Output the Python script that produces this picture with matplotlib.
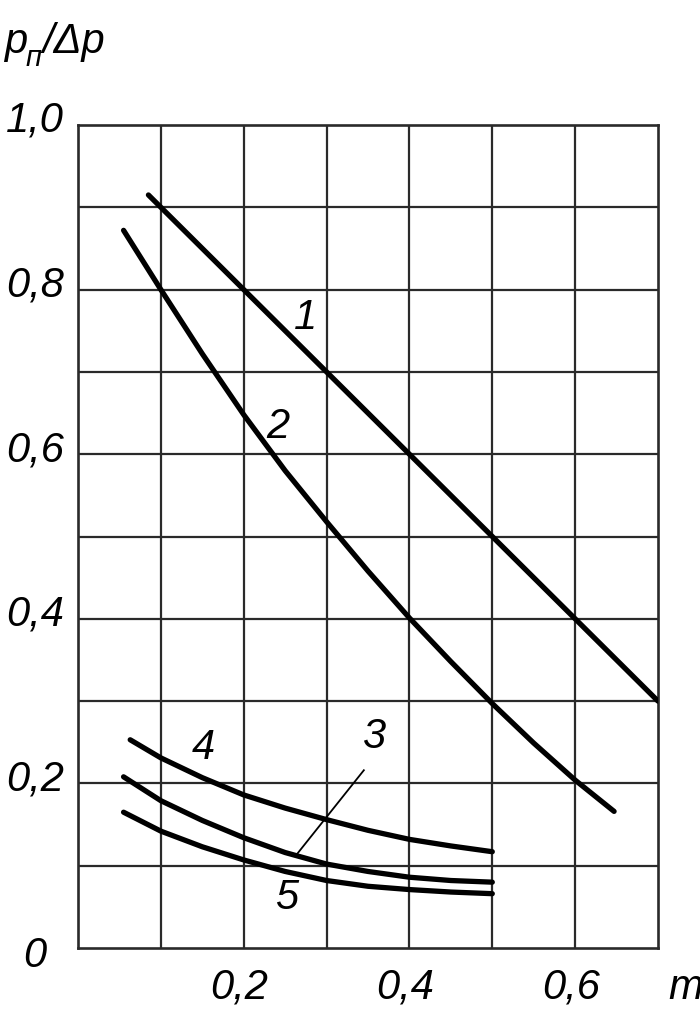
import matplotlib
matplotlib.use("Agg")
import matplotlib.pyplot as plt
from matplotlib import font_manager

# ---- data ----
x1 = [0.085, 0.1, 0.2, 0.3, 0.4, 0.5, 0.6, 0.7]
y1 = [0.915, 0.90, 0.80, 0.70, 0.60, 0.50, 0.40, 0.30]

x2 = [0.055, 0.1, 0.15, 0.2, 0.25, 0.3, 0.35, 0.4, 0.45, 0.5, 0.55, 0.6, 0.647]
y2 = [0.872, 0.800, 0.722, 0.648, 0.580, 0.518, 0.458, 0.401, 0.348, 0.297, 0.249, 0.204, 0.166]

x3 = [0.055, 0.1, 0.15, 0.2, 0.25, 0.3, 0.35, 0.4, 0.45, 0.5]
y3 = [0.208, 0.179, 0.155, 0.134, 0.116, 0.102, 0.093, 0.086, 0.082, 0.080]

x4 = [0.063, 0.1, 0.15, 0.2, 0.25, 0.3, 0.35, 0.4, 0.45, 0.5]
y4 = [0.253, 0.231, 0.207, 0.186, 0.170, 0.156, 0.143, 0.132, 0.124, 0.117]

x5 = [0.055, 0.1, 0.15, 0.2, 0.25, 0.3, 0.35, 0.4, 0.45, 0.5]
y5 = [0.165, 0.142, 0.123, 0.107, 0.093, 0.082, 0.075, 0.071, 0.068, 0.066]

xticks = [0.2, 0.4, 0.6]
xtick_labels = ["0,2", "0,4", "0,6"]
yticks = [0.0, 0.2, 0.4, 0.6, 0.8, 1.0]
ytick_labels = ["0", "0,2", "0,4", "0,6", "0,8", "1,0"]

curve_labels = ["1", "2", "3", "4", "5"]
label_pos = [(0.275, 0.766), (0.241, 0.633), (0.357, 0.256), (0.151, 0.243), (0.252, 0.061)]

# ---- fonts ----
avail = {f.name for f in font_manager.fontManager.ttflist}
fam = "Liberation Sans Narrow" if "Liberation Sans Narrow" in avail else "Liberation Sans"
FS = 30

fig = plt.figure(figsize=(7.0, 10.15), dpi=100)
ax = fig.add_axes([78 / 700, 67 / 1015, 580 / 700, 823 / 1015])
ax.set_xlim(0, 0.7)
ax.set_ylim(0, 1.0)

gridc = "#2a2a2a"
for v in [0.1 * i for i in range(1, 7)]:
    ax.axvline(v, color=gridc, lw=1.6, zorder=1)
for v in [0.1 * i for i in range(1, 10)]:
    ax.axhline(v, color=gridc, lw=1.6, zorder=1)
for s in ax.spines.values():
    s.set_color(gridc)
    s.set_linewidth(1.9)

for xs, ys in [(x1, y1), (x2, y2), (x3, y3), (x4, y4), (x5, y5)]:
    ax.plot(xs, ys, color="black", lw=3.8, solid_capstyle="round",
            solid_joinstyle="round", zorder=3)

# leader line for curve 3
ax.plot([0.345, 0.265], [0.216, 0.115], color="black", lw=1.3, zorder=3)

for lab, (lx, ly) in zip(curve_labels, label_pos):
    ax.text(lx, ly, lab, fontsize=FS, family=fam, style="italic",
            ha="center", va="center", zorder=4)

ax.set_xticks([])
ax.set_yticks([])
for v, t in zip(xticks, xtick_labels):
    ax.text(v - 0.005, -0.048, t, fontsize=FS, family=fam, style="italic",
            ha="center", va="center", clip_on=False)
for v, t in zip(yticks, ytick_labels):
    ax.text(-0.052, v + (-0.01 if v == 0 else 0.005), t, fontsize=FS, family=fam,
            style="italic", ha="center", va="center", clip_on=False)

ax.text(0.7 + 0.012, -0.048, "m", fontsize=FS, family=fam, style="italic",
        ha="left", va="center", clip_on=False)

# y-axis title
fig.text(4 / 700, 1 - 42 / 1015, "p", fontsize=FS, family=fam, style="italic",
         ha="left", va="center")
fig.text(26 / 700, 1 - 58 / 1015, "п", fontsize=21, family=fam, style="italic",
         ha="left", va="center")
fig.text(42 / 700, 1 - 42 / 1015, "/Δp", fontsize=FS, family=fam, style="italic",
         ha="left", va="center")

fig.savefig("out.png", dpi=100)
